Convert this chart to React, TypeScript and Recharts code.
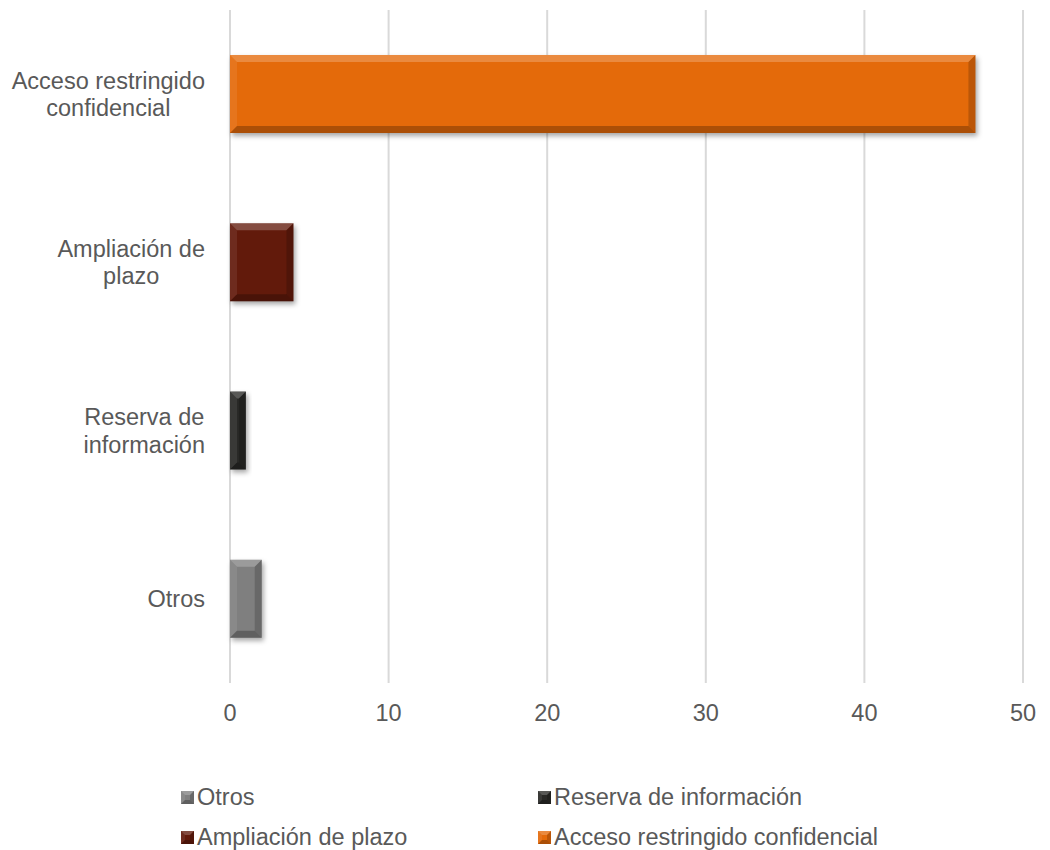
import { BarChart, Bar, XAxis, YAxis, CartesianGrid } from "recharts";

const categories = [
  "Acceso restringido confidencial",
  "Ampliación de plazo",
  "Reserva de información",
  "Otros",
];
const seriesNames = [
  "Otros",
  "Reserva de información",
  "Ampliación de plazo",
  "Acceso restringido confidencial",
];
const seriesValues = [2, 1, 4, 47];
const seriesColors = ["#7f7f7f", "#292927", "#621a0b", "#e46a0a"];
const xTicks = [0, 10, 20, 30, 40, 50];

const FONT = "'Liberation Sans', Arial, sans-serif";
const FONT_SIZE = 23.5;
const TEXT = "#595959";

const data = categories.map((cat) => {
  const row: Record<string, any> = { name: cat };
  seriesNames.forEach((s, i) => {
    if (s === cat) row["s" + i] = seriesValues[i];
  });
  return row;
});

let ctx: CanvasRenderingContext2D | null = null;
const measure = (t: string) => {
  if (!ctx) {
    ctx = document.createElement("canvas").getContext("2d");
    if (ctx) ctx.font = `${FONT_SIZE}px ${FONT}`;
  }
  return ctx ? ctx.measureText(t).width : t.length * FONT_SIZE * 0.5;
};

const wrap = (text: string, maxW: number) => {
  const words = text.split(" ");
  const lines: string[] = [];
  let cur = "";
  words.forEach((w) => {
    const next = cur ? cur + " " + w : w;
    if (cur && measure(next) > maxW) {
      lines.push(cur);
      cur = w;
    } else cur = next;
  });
  if (cur) lines.push(cur);
  return lines;
};

const CategoryTick = (props: any) => {
  const { x, y, payload } = props;
  const lines = wrap(payload.value, 200);
  const blockW = Math.max(...lines.map(measure));
  const cx = x - 25 - blockW / 2;
  const lineH = 27.5;
  const startY = y - ((lines.length - 1) * lineH) / 2;
  return (
    <text textAnchor="middle" fill={TEXT} fontSize={FONT_SIZE} fontFamily={FONT}>
      {lines.map((l, i) => (
        <tspan key={i} x={cx} y={startY + i * lineH} dy="0.35em">
          {l}
        </tspan>
      ))}
    </text>
  );
};

const ValueTick = (props: any) => {
  const { x, y, payload } = props;
  return (
    <text x={x} y={y + 38} textAnchor="middle" fill={TEXT} fontSize={FONT_SIZE} fontFamily={FONT}>
      {payload.value}
    </text>
  );
};

// bevelled box like the Excel style
const Bevel = ({ x, y, w, h, b, color }: any) => {
  const k = Math.min(b, w / 2, h / 2);
  return (
    <g>
      <rect x={x} y={y} width={w} height={h} fill={color} />
      <polygon
        points={`${x},${y} ${x + w},${y} ${x + w - k},${y + k} ${x + k},${y + k}`}
        fill="#fff"
        fillOpacity={0.22}
      />
      <polygon
        points={`${x},${y} ${x + k},${y + k} ${x + k},${y + h - k} ${x},${y + h}`}
        fill="#fff"
        fillOpacity={0.08}
      />
      <polygon
        points={`${x + w},${y} ${x + w},${y + h} ${x + w - k},${y + h - k} ${x + w - k},${y + k}`}
        fill="#000"
        fillOpacity={0.18}
      />
      <polygon
        points={`${x},${y + h} ${x + k},${y + h - k} ${x + w - k},${y + h - k} ${x + w},${y + h}`}
        fill="#000"
        fillOpacity={0.25}
      />
    </g>
  );
};

const makeShape = (idx: number) => (props: any) => {
  const { x, y, width, height } = props;
  if (!width || width <= 0) return <g />;
  const id = "shadow" + idx;
  return (
    <g>
      <defs>
        <filter id={id} x="-20%" y="-20%" width="140%" height="140%">
          <feGaussianBlur stdDeviation="2.5" />
        </filter>
      </defs>
      <rect x={x + 2} y={y + 3} width={width} height={height} fill="#000" fillOpacity={0.35} filter={`url(#${id})`} />
      <Bevel x={x} y={y} w={width} h={height} b={7} color={seriesColors[idx]} />
    </g>
  );
};

const legendRows = [
  [0, 1],
  [2, 3],
];

export default function App() {
  return (
    <div style={{ position: "absolute", left: 0, top: 0, width: 1050, height: 850, background: "#fff", fontFamily: FONT }}>
      <BarChart
        width={1050}
        height={740}
        data={data}
        layout="vertical"
        margin={{ top: 10, right: 27, bottom: 0, left: 0 }}
      >
        <CartesianGrid horizontal={false} stroke="#d9d9d9" strokeWidth={2} />
        <XAxis
          type="number"
          domain={[0, 50]}
          ticks={xTicks}
          axisLine={false}
          tickLine={false}
          tickSize={0}
          tickMargin={0}
          height={57}
          tick={<ValueTick />}
        />
        <YAxis
          type="category"
          dataKey="name"
          width={230}
          axisLine={false}
          tickLine={false}
          tickSize={0}
          tickMargin={0}
          tick={<CategoryTick />}
        />
        {seriesNames.map((s, i) => (
          <Bar
            key={s}
            dataKey={"s" + i}
            name={s}
            stackId="a"
            barSize={78}
            fill={seriesColors[i]}
            shape={makeShape(i)}
            isAnimationActive={false}
          />
        ))}
      </BarChart>
      {legendRows.map((row, r) =>
        row.map((si, c) => (
          <div
            key={si}
            style={{
              position: "absolute",
              left: c === 0 ? 181 : 538,
              top: 783 + r * 40,
              height: 28,
              display: "flex",
              alignItems: "center",
              fontSize: FONT_SIZE,
              color: TEXT,
              whiteSpace: "nowrap",
            }}
          >
            <svg width={13} height={13} style={{ marginRight: 3 }}>
              <Bevel x={0} y={0} w={13} h={13} b={4} color={seriesColors[si]} />
            </svg>
            {seriesNames[si]}
          </div>
        ))
      )}
    </div>
  );
}
